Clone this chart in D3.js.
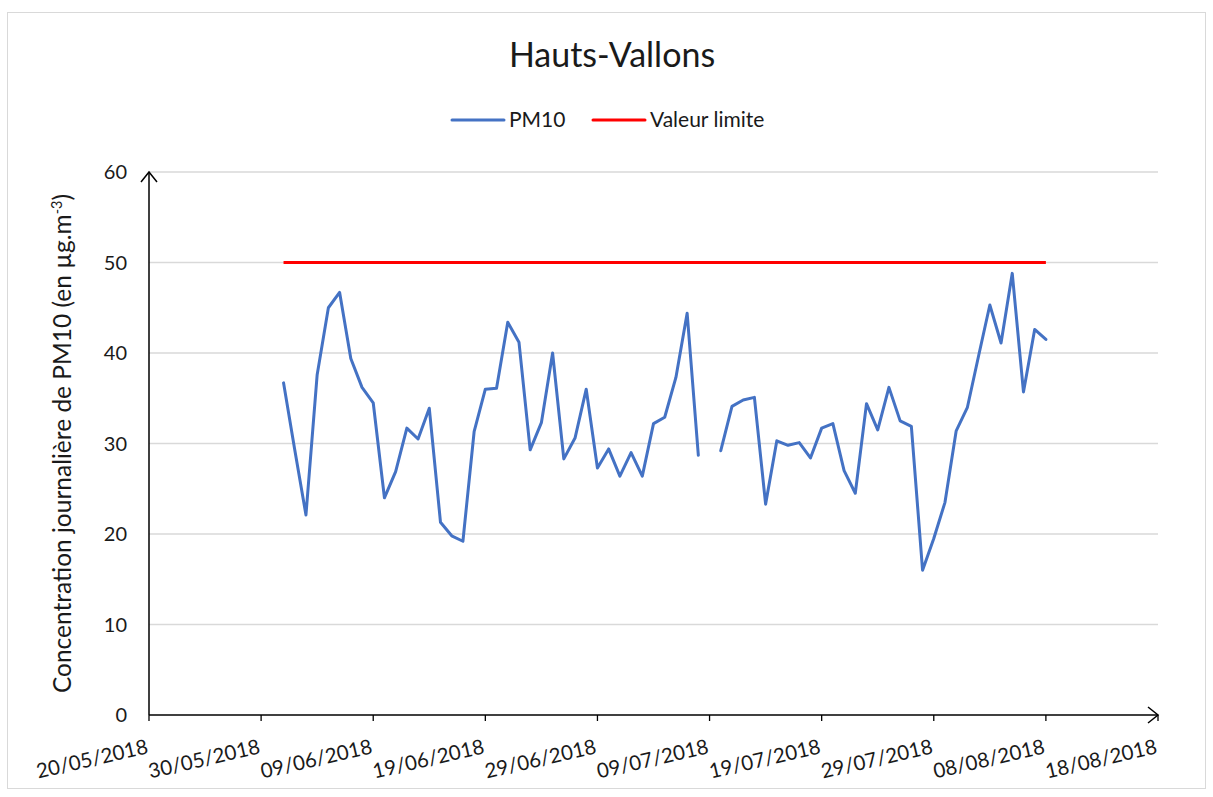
<!DOCTYPE html>
<html>
<head>
<meta charset="utf-8">
<script src="https://cdn.jsdelivr.net/npm/d3@7"></script>
<style>
  body { margin: 0; background: #fff; }
  svg { font-family: Lato, "Open Sans", sans-serif; }
</style>
</head>
<body>
<svg id="chart" width="1213" height="797"></svg>
<script>
// - - - - - - - - - -
// data
// - - - - - - - - - -
const title = 'Hauts-Vallons';
const firstDay = '2018-06-01';
// daily PM10, 01/06/2018 -> 08/08/2018 (null = missing day)
const pm10 = [
  36.7, 29.3, 22.1, 37.6, 45.0, 46.7, 39.4, 36.2, 34.5, 24.0,
  26.9, 31.7, 30.5, 33.9, 21.3, 19.8, 19.2, 31.3, 36.0, 36.1,
  43.4, 41.2, 29.3, 32.3, 40.0, 28.3, 30.6, 36.0, 27.3, 29.4,
  26.4, 29.0, 26.4, 32.2, 32.9, 37.3, 44.4, 28.7, null, 29.2,
  34.1, 34.8, 35.1, 23.3, 30.3, 29.8, 30.1, 28.4, 31.7, 32.2,
  27.0, 24.5, 34.4, 31.5, 36.2, 32.5, 31.9, 16.0, 19.5, 23.5,
  31.4, 34.0, 39.7, 45.3, 41.1, 48.8, 35.7, 42.6, 41.5
];
const limitValue = 50;
const seriesNames = ['PM10', 'Valeur limite'];
const seriesColors = ['#4472C4', '#FF0000'];
const yTicks = [0, 10, 20, 30, 40, 50, 60];
const xTickLabels = ['20/05/2018', '30/05/2018', '09/06/2018', '19/06/2018', '29/06/2018',
  '09/07/2018', '19/07/2018', '29/07/2018', '08/08/2018', '18/08/2018'];

// - - - - - - - - - -
const parse = d3.utcParse('%d/%m/%Y');
const start = d3.utcParse('%Y-%m-%d')(firstDay);
const rows = pm10.map((v, i) => ({ date: d3.utcDay.offset(start, i), value: v }));
const xTicks = xTickLabels.map(parse);

const svg = d3.select('#chart');
const W = 1213, H = 797;
const m = { left: 149, right: 55, top: 172, bottom: 82 };

// outer frame
svg.append('rect')
  .attr('x', 7.5).attr('y', 12.5)
  .attr('width', 1198).attr('height', 776)
  .attr('fill', '#fff').attr('stroke', '#d9d9d9');

const x = d3.scaleUtc()
  .domain([xTicks[0], xTicks[xTicks.length - 1]])
  .range([m.left, W - m.right]);
const y = d3.scaleLinear()
  .domain([0, 60])
  .range([H - m.bottom, m.top]);

// gridlines
svg.append('g')
  .selectAll('line')
  .data(yTicks.slice(1))
  .join('line')
  .attr('x1', x.range()[0]).attr('x2', x.range()[1])
  .attr('y1', d => y(d)).attr('y2', d => y(d))
  .attr('stroke', '#d9d9d9').attr('stroke-width', 1.3);

// y labels
svg.append('g')
  .selectAll('text')
  .data(yTicks)
  .join('text')
  .attr('x', m.left - 22)
  .attr('y', d => y(d))
  .attr('dy', '0.35em')
  .attr('text-anchor', 'end')
  .attr('font-size', 20)
  .attr('fill', '#1a1a1a')
  .text(d => d);

// x axis ticks + labels
const gx = svg.append('g');
gx.selectAll('line')
  .data(xTicks)
  .join('line')
  .attr('x1', d => x(d)).attr('x2', d => x(d))
  .attr('y1', y(0)).attr('y2', y(0) + 6)
  .attr('stroke', '#000').attr('stroke-width', 1.3);
gx.selectAll('text')
  .data(xTicks)
  .join('text')
  .attr('transform', d => `translate(${x(d)},${y(0) + 38}) rotate(-13)`)
  .attr('text-anchor', 'end')
  .attr('font-size', 20.5)
  .attr('fill', '#1a1a1a')
  .text((d, i) => xTickLabels[i]);

// axes with open arrows
const axes = svg.append('g').attr('stroke', '#000').attr('stroke-width', 1.5).attr('fill', 'none');
axes.append('line')
  .attr('x1', x.range()[0]).attr('x2', x.range()[0])
  .attr('y1', y(0)).attr('y2', y(60));
axes.append('path')
  .attr('d', `M${x.range()[0] - 8},${y(60) + 10}L${x.range()[0]},${y(60)}L${x.range()[0] + 8},${y(60) + 10}`);
axes.append('line')
  .attr('x1', x.range()[0]).attr('x2', x.range()[1])
  .attr('y1', y(0)).attr('y2', y(0));
axes.append('path')
  .attr('d', `M${x.range()[1] - 10},${y(0) - 8}L${x.range()[1]},${y(0)}L${x.range()[1] - 10},${y(0) + 8}`);

// limit line
svg.append('line')
  .attr('x1', x(rows[0].date)).attr('x2', x(rows[rows.length - 1].date))
  .attr('y1', y(limitValue)).attr('y2', y(limitValue))
  .attr('stroke', seriesColors[1]).attr('stroke-width', 3);

// PM10 line
const line = d3.line()
  .defined(d => d.value !== null)
  .x(d => x(d.date))
  .y(d => y(d.value));
svg.append('path')
  .datum(rows)
  .attr('d', line)
  .attr('fill', 'none')
  .attr('stroke', seriesColors[0])
  .attr('stroke-width', 3)
  .attr('stroke-linejoin', 'round')
  .attr('stroke-linecap', 'round');

// title
svg.append('text')
  .attr('x', 612).attr('y', 67)
  .attr('text-anchor', 'middle')
  .attr('font-size', 34)
  .attr('fill', '#1a1a1a')
  .text(title);

// legend
const legendX = [452, 593];
const lg = svg.append('g');
seriesNames.forEach((name, i) => {
  lg.append('line')
    .attr('x1', legendX[i]).attr('x2', legendX[i] + 52)
    .attr('y1', 120).attr('y2', 120)
    .attr('stroke', seriesColors[i]).attr('stroke-width', 3)
    .attr('stroke-linecap', 'round');
  lg.append('text')
    .attr('x', legendX[i] + 57).attr('y', 120)
    .attr('dy', '0.35em')
    .attr('font-size', 21)
    .attr('fill', '#1a1a1a')
    .text(name);
});

// y title
const yt = svg.append('text')
  .attr('transform', `translate(71,${(y(0) + y(60)) / 2}) rotate(-90)`)
  .attr('text-anchor', 'middle')
  .attr('font-size', 24.5)
  .attr('fill', '#1a1a1a');
yt.append('tspan').text('Concentration journalière de PM10 (en µg.m');
yt.append('tspan').attr('dy', -9).attr('font-size', 14.5).text('-3');
yt.append('tspan').attr('dy', 9).text(')');
</script>
</body>
</html>
